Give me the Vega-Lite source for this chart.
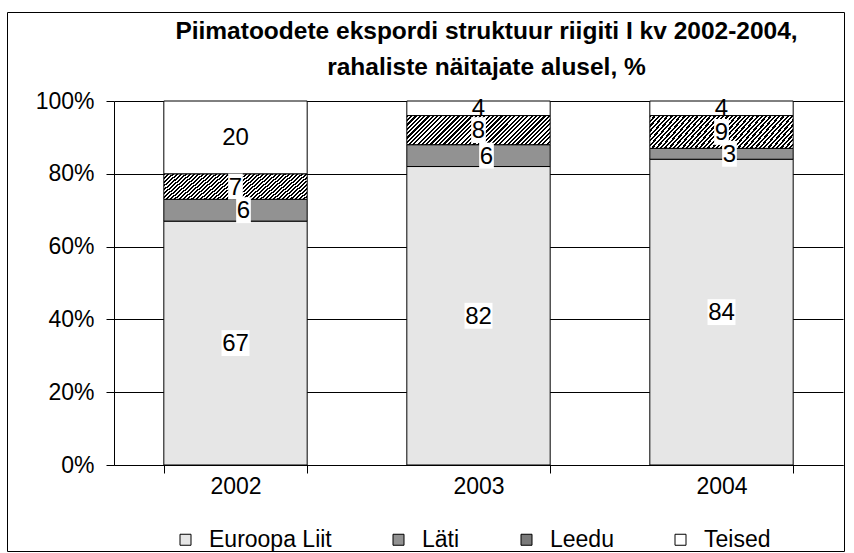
{
  "$schema": "https://vega.github.io/schema/vega-lite/v6.json",
  "width": 837,
  "height": 539,
  "autosize": {"type": "none"},
  "padding": {"left": 7, "top": 12, "right": 10, "bottom": 2},
  "background": "white",
  "config": {"font": "Liberation Sans", "view": {"stroke": "black", "strokeWidth": 1}},
  "title": {
    "text": ["Piimatoodete ekspordi struktuur riigiti I kv 2002-2004,", "rahaliste näitajate alusel, %"],
    "fontSize": 24.5,
    "fontWeight": "bold",
    "font": "Liberation Sans",
    "color": "black",
    "lineHeight": 36,
    "anchor": "middle",
    "dx": 61,
    "offset": -68
  },
  "data": {
    "values": [
      {"year": "2002", "group": "Euroopa Liit", "value": 67, "order": 1},
      {"year": "2002", "group": "Läti", "value": 6, "order": 2},
      {"year": "2002", "group": "Leedu", "value": 7, "order": 3},
      {"year": "2002", "group": "Teised", "value": 20, "order": 4},
      {"year": "2003", "group": "Euroopa Liit", "value": 82, "order": 1},
      {"year": "2003", "group": "Läti", "value": 6, "order": 2},
      {"year": "2003", "group": "Leedu", "value": 8, "order": 3},
      {"year": "2003", "group": "Teised", "value": 4, "order": 4},
      {"year": "2004", "group": "Euroopa Liit", "value": 84, "order": 1},
      {"year": "2004", "group": "Läti", "value": 3, "order": 2},
      {"year": "2004", "group": "Leedu", "value": 9, "order": 3},
      {"year": "2004", "group": "Teised", "value": 4, "order": 4}
    ]
  },
  "transform": [
    {"stack": "value", "groupby": ["year"], "sort": [{"field": "order", "order": "ascending"}], "as": ["v0", "v1"]},
    {"calculate": "(datum.v0 + datum.v1) / 2", "as": "mid"}
  ],
  "encoding": {
    "x": {
      "field": "year",
      "type": "nominal",
      "scale": {"range": [107, 836], "paddingInner": 0.41, "paddingOuter": 0.205},
      "axis": {
        "title": null,
        "offset": -86,
        "labelAngle": 0,
        "labelFontSize": 23,
        "labelColor": "black",
        "labelPadding": 2,
        "tickBand": "extent",
        "tickSize": 8,
        "tickColor": "black",
        "domainColor": "black",
        "grid": false
      }
    }
  },
  "layer": [
    {
      "mark": {"type": "bar", "stroke": "black", "strokeWidth": 1},
      "encoding": {
        "y": {
          "field": "v0",
          "type": "quantitative",
          "scale": {"domain": [0, 100], "range": [453, 89]},
          "axis": {
            "title": null,
            "offset": -107,
            "values": [0, 20, 40, 60, 80, 100],
            "labelExpr": "datum.value + '%'",
            "labelFontSize": 23,
            "labelColor": "black",
            "labelPadding": 12,
            "tickSize": 8,
            "tickColor": "black",
            "domainColor": "black",
            "grid": true,
            "gridColor": "black",
            "gridOpacity": 1
          }
        },
        "y2": {"field": "v1"},
        "fill": {
          "field": "group",
          "type": "nominal",
          "condition": {
            "test": "datum.group == 'Leedu'",
            "value": {
              "gradient": "linear",
              "x1": 0, "y1": 0, "x2": 1.1519, "y2": 0.2339,
              "stops": [
                {"offset": 0, "color": "#000"}, {"offset": 0.0125, "color": "#000"}, {"offset": 0.0125, "color": "#fff"}, {"offset": 0.025, "color": "#fff"},
                {"offset": 0.025, "color": "#000"}, {"offset": 0.0375, "color": "#000"}, {"offset": 0.0375, "color": "#fff"}, {"offset": 0.05, "color": "#fff"},
                {"offset": 0.05, "color": "#000"}, {"offset": 0.0625, "color": "#000"}, {"offset": 0.0625, "color": "#fff"}, {"offset": 0.075, "color": "#fff"},
                {"offset": 0.075, "color": "#000"}, {"offset": 0.0875, "color": "#000"}, {"offset": 0.0875, "color": "#fff"}, {"offset": 0.1, "color": "#fff"},
                {"offset": 0.1, "color": "#000"}, {"offset": 0.1125, "color": "#000"}, {"offset": 0.1125, "color": "#fff"}, {"offset": 0.125, "color": "#fff"},
                {"offset": 0.125, "color": "#000"}, {"offset": 0.1375, "color": "#000"}, {"offset": 0.1375, "color": "#fff"}, {"offset": 0.15, "color": "#fff"},
                {"offset": 0.15, "color": "#000"}, {"offset": 0.1625, "color": "#000"}, {"offset": 0.1625, "color": "#fff"}, {"offset": 0.175, "color": "#fff"},
                {"offset": 0.175, "color": "#000"}, {"offset": 0.1875, "color": "#000"}, {"offset": 0.1875, "color": "#fff"}, {"offset": 0.2, "color": "#fff"},
                {"offset": 0.2, "color": "#000"}, {"offset": 0.2125, "color": "#000"}, {"offset": 0.2125, "color": "#fff"}, {"offset": 0.225, "color": "#fff"},
                {"offset": 0.225, "color": "#000"}, {"offset": 0.2375, "color": "#000"}, {"offset": 0.2375, "color": "#fff"}, {"offset": 0.25, "color": "#fff"},
                {"offset": 0.25, "color": "#000"}, {"offset": 0.2625, "color": "#000"}, {"offset": 0.2625, "color": "#fff"}, {"offset": 0.275, "color": "#fff"},
                {"offset": 0.275, "color": "#000"}, {"offset": 0.2875, "color": "#000"}, {"offset": 0.2875, "color": "#fff"}, {"offset": 0.3, "color": "#fff"},
                {"offset": 0.3, "color": "#000"}, {"offset": 0.3125, "color": "#000"}, {"offset": 0.3125, "color": "#fff"}, {"offset": 0.325, "color": "#fff"},
                {"offset": 0.325, "color": "#000"}, {"offset": 0.3375, "color": "#000"}, {"offset": 0.3375, "color": "#fff"}, {"offset": 0.35, "color": "#fff"},
                {"offset": 0.35, "color": "#000"}, {"offset": 0.3625, "color": "#000"}, {"offset": 0.3625, "color": "#fff"}, {"offset": 0.375, "color": "#fff"},
                {"offset": 0.375, "color": "#000"}, {"offset": 0.3875, "color": "#000"}, {"offset": 0.3875, "color": "#fff"}, {"offset": 0.4, "color": "#fff"},
                {"offset": 0.4, "color": "#000"}, {"offset": 0.4125, "color": "#000"}, {"offset": 0.4125, "color": "#fff"}, {"offset": 0.425, "color": "#fff"},
                {"offset": 0.425, "color": "#000"}, {"offset": 0.4375, "color": "#000"}, {"offset": 0.4375, "color": "#fff"}, {"offset": 0.45, "color": "#fff"},
                {"offset": 0.45, "color": "#000"}, {"offset": 0.4625, "color": "#000"}, {"offset": 0.4625, "color": "#fff"}, {"offset": 0.475, "color": "#fff"},
                {"offset": 0.475, "color": "#000"}, {"offset": 0.4875, "color": "#000"}, {"offset": 0.4875, "color": "#fff"}, {"offset": 0.5, "color": "#fff"},
                {"offset": 0.5, "color": "#000"}, {"offset": 0.5125, "color": "#000"}, {"offset": 0.5125, "color": "#fff"}, {"offset": 0.525, "color": "#fff"},
                {"offset": 0.525, "color": "#000"}, {"offset": 0.5375, "color": "#000"}, {"offset": 0.5375, "color": "#fff"}, {"offset": 0.55, "color": "#fff"},
                {"offset": 0.55, "color": "#000"}, {"offset": 0.5625, "color": "#000"}, {"offset": 0.5625, "color": "#fff"}, {"offset": 0.575, "color": "#fff"},
                {"offset": 0.575, "color": "#000"}, {"offset": 0.5875, "color": "#000"}, {"offset": 0.5875, "color": "#fff"}, {"offset": 0.6, "color": "#fff"},
                {"offset": 0.6, "color": "#000"}, {"offset": 0.6125, "color": "#000"}, {"offset": 0.6125, "color": "#fff"}, {"offset": 0.625, "color": "#fff"},
                {"offset": 0.625, "color": "#000"}, {"offset": 0.6375, "color": "#000"}, {"offset": 0.6375, "color": "#fff"}, {"offset": 0.65, "color": "#fff"},
                {"offset": 0.65, "color": "#000"}, {"offset": 0.6625, "color": "#000"}, {"offset": 0.6625, "color": "#fff"}, {"offset": 0.675, "color": "#fff"},
                {"offset": 0.675, "color": "#000"}, {"offset": 0.6875, "color": "#000"}, {"offset": 0.6875, "color": "#fff"}, {"offset": 0.7, "color": "#fff"},
                {"offset": 0.7, "color": "#000"}, {"offset": 0.7125, "color": "#000"}, {"offset": 0.7125, "color": "#fff"}, {"offset": 0.725, "color": "#fff"},
                {"offset": 0.725, "color": "#000"}, {"offset": 0.7375, "color": "#000"}, {"offset": 0.7375, "color": "#fff"}, {"offset": 0.75, "color": "#fff"},
                {"offset": 0.75, "color": "#000"}, {"offset": 0.7625, "color": "#000"}, {"offset": 0.7625, "color": "#fff"}, {"offset": 0.775, "color": "#fff"},
                {"offset": 0.775, "color": "#000"}, {"offset": 0.7875, "color": "#000"}, {"offset": 0.7875, "color": "#fff"}, {"offset": 0.8, "color": "#fff"},
                {"offset": 0.8, "color": "#000"}, {"offset": 0.8125, "color": "#000"}, {"offset": 0.8125, "color": "#fff"}, {"offset": 0.825, "color": "#fff"},
                {"offset": 0.825, "color": "#000"}, {"offset": 0.8375, "color": "#000"}, {"offset": 0.8375, "color": "#fff"}, {"offset": 0.85, "color": "#fff"},
                {"offset": 0.85, "color": "#000"}, {"offset": 0.8625, "color": "#000"}, {"offset": 0.8625, "color": "#fff"}, {"offset": 0.875, "color": "#fff"},
                {"offset": 0.875, "color": "#000"}, {"offset": 0.8875, "color": "#000"}, {"offset": 0.8875, "color": "#fff"}, {"offset": 0.9, "color": "#fff"},
                {"offset": 0.9, "color": "#000"}, {"offset": 0.9125, "color": "#000"}, {"offset": 0.9125, "color": "#fff"}, {"offset": 0.925, "color": "#fff"},
                {"offset": 0.925, "color": "#000"}, {"offset": 0.9375, "color": "#000"}, {"offset": 0.9375, "color": "#fff"}, {"offset": 0.95, "color": "#fff"},
                {"offset": 0.95, "color": "#000"}, {"offset": 0.9625, "color": "#000"}, {"offset": 0.9625, "color": "#fff"}, {"offset": 0.975, "color": "#fff"},
                {"offset": 0.975, "color": "#000"}, {"offset": 0.9875, "color": "#000"}, {"offset": 0.9875, "color": "#fff"}, {"offset": 1, "color": "#fff"}
              ]
            }
          },
          "scale": {
            "domain": ["Euroopa Liit", "Läti", "Leedu", "Teised"],
            "range": ["#e6e6e6", "#929292", "#7a7a7a", "#ffffff"]
          },
          "legend": {
            "title": null,
            "orient": "none",
            "legendX": 167,
            "legendY": 516,
            "direction": "horizontal",
            "symbolType": "square",
            "symbolSize": 121,
            "symbolStrokeColor": "black",
            "symbolStrokeWidth": 1,
            "symbolOpacity": 1,
            "labelFontSize": 23,
            "labelColor": "black",
            "labelOffset": 12,
            "columnPadding": 55
          }
        }
      }
    },
    {
      "transform": [{"filter": "datum.group != 'Teised' && datum.group != 'Läti'"}],
      "mark": {"type": "point", "filled": true, "fill": "white", "opacity": 1, "strokeWidth": 0, "size": 196},
      "encoding": {
        "y": {"field": "mid", "type": "quantitative"},
        "shape": {
          "condition": {"test": "datum.value >= 10", "value": "M-2,-1.85H2V1.85H-2Z"},
          "value": "M-1.05,-1.85H1.05V1.85H-1.05Z"
        }
      }
    },
    {
      "transform": [{"filter": "datum.group == 'Läti'"}],
      "mark": {"type": "point", "filled": true, "fill": "white", "opacity": 1, "strokeWidth": 0, "size": 196, "xOffset": 8, "shape": "M-1.05,-1.85H1.05V1.85H-1.05Z"},
      "encoding": {
        "y": {"field": "mid", "type": "quantitative"}
      }
    },
    {
      "transform": [{"filter": "datum.group != 'Läti'"}],
      "mark": {"type": "text", "fontSize": 24, "baseline": "middle", "align": "center", "color": "black", "dy": 1},
      "encoding": {
        "y": {"field": "mid", "type": "quantitative"},
        "text": {"field": "value", "type": "quantitative"}
      }
    },
    {
      "transform": [{"filter": "datum.group == 'Läti'"}],
      "mark": {"type": "text", "fontSize": 24, "baseline": "middle", "align": "center", "color": "black", "dy": 1, "dx": 8},
      "encoding": {
        "y": {"field": "mid", "type": "quantitative"},
        "text": {"field": "value", "type": "quantitative"}
      }
    }
  ]
}
